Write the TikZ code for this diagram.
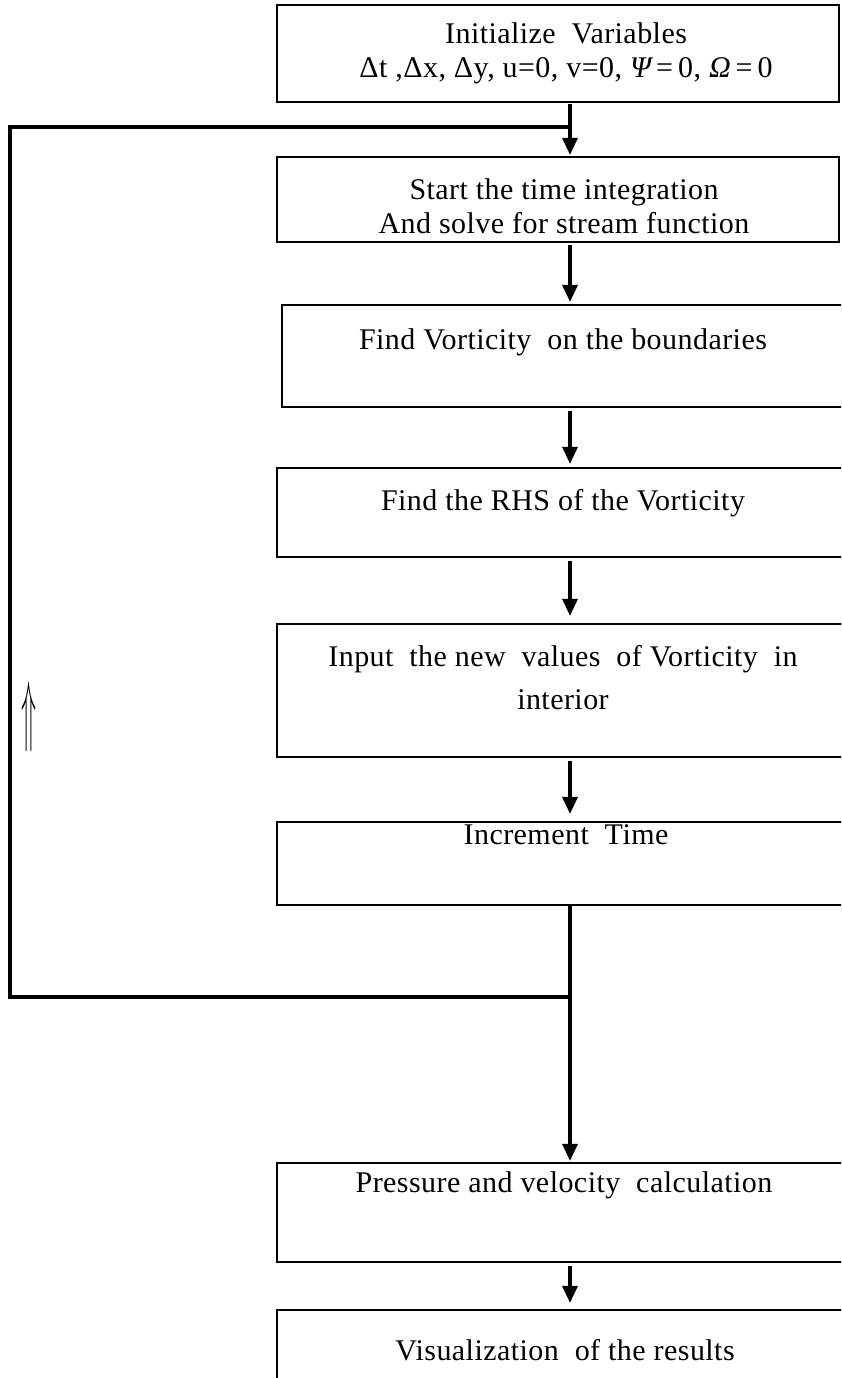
\documentclass[tikz,border=0pt]{standalone}
\usepackage{fontspec}
\setmainfont{Liberation Serif}[LetterSpace=1.5]
\usetikzlibrary{arrows.meta}
\begin{document}
\begin{tikzpicture}[x=1pt,y=-1pt,
  box/.style={draw, line width=2.2pt, rectangle, inner sep=0pt},
  txt/.style={align=center, inner sep=0pt, font=\fontsize{30}{34}\selectfont},
  flow/.style={line width=3.4pt, -{Triangle[length=17pt,width=15pt]}},
  backline/.style={line width=4.8pt, line join=miter}]
\useasboundingbox (0,0) rectangle (841,1378);
\clip (0,0) rectangle (841,1378);
% boxes
\node[box, minimum width=562pt, minimum height=97pt]  (init)  at (558,53.5)  {};
\node[box, minimum width=562pt, minimum height=85pt]  (start) at (558,199.5) {};
\node[box, minimum width=566pt, minimum height=102pt] (findv) at (565,356)   {};
\node[box, minimum width=572pt, minimum height=89pt]  (rhs)   at (563,512.5) {};
\node[box, minimum width=572pt, minimum height=133pt] (input) at (563,690.5) {};
\node[box, minimum width=572pt, minimum height=83pt]  (incr)  at (563,863.5) {};
\node[box, minimum width=572pt, minimum height=99pt]  (pres)  at (563,1212.5){};
\node[box, minimum width=572pt, minimum height=100pt] (vis)   at (563,1360)  {};
% texts
\node[txt] (tinit)  at (566,53)  {Initialize\ \ Variables\\ Δt ,Δx, Δy, u=0, v=0, {\itshape Ψ}\,=\,0, {\itshape Ω}\,=\,0};
\node[txt] (tstart) at (564,206) {Start the time integration\\ And solve for stream function};
\node[txt] (tfindv) at (563,342) {Find Vorticity\ \ on the boundaries};
\node[txt] (trhs)   at (563,503) {Find the RHS of the Vorticity};
\node[txt, font=\fontsize{30}{43}\selectfont] (tinput) at (563,678) {Input\ \ the new\ \ values\ \ of Vorticity\ \ in\\ interior};
\node[txt] (tincr)  at (566,835) {Increment\ \ Time};
\node[txt] (tpres)  at (564,1185){Pressure and velocity\ \ calculation};
\node[txt] (tvis)   at (565,1350){Visualization\ \ of the results};
% spine and loop corners
\coordinate (sp) at (570,0);
\coordinate (lt) at (10,127);
\coordinate (lb) at (10,997);
% connectors
\draw[flow, shorten <=1pt, shorten >=1pt] (init.south -| sp) -- (start.north -| sp);
\draw[flow, shorten <=2pt, shorten >=2pt] (start.south -| sp) -- (findv.north -| sp);
\draw[flow, shorten <=3pt, shorten >=3pt] (findv.south -| sp) -- (rhs.north -| sp);
\draw[flow, shorten <=3pt, shorten >=7pt] (rhs.south -| sp) -- (input.north -| sp);
\draw[flow, shorten <=3pt, shorten >=7pt] (input.south -| sp) -- (incr.north -| sp);
\draw[flow, shorten >=1pt] (incr.south -| sp) -- (pres.north -| sp);
\draw[flow, shorten <=3pt, shorten >=6pt] (pres.south -| sp) -- (vis.north -| sp);
\draw[backline] (lb -| sp) -- (lb) -- (lt) -- (lt -| sp);
% upward double arrow
\node[inner sep=0pt] (uparr) at (29,717) {\resizebox{15pt}{55pt}{$\Uparrow$}};
\end{tikzpicture}
\end{document}
